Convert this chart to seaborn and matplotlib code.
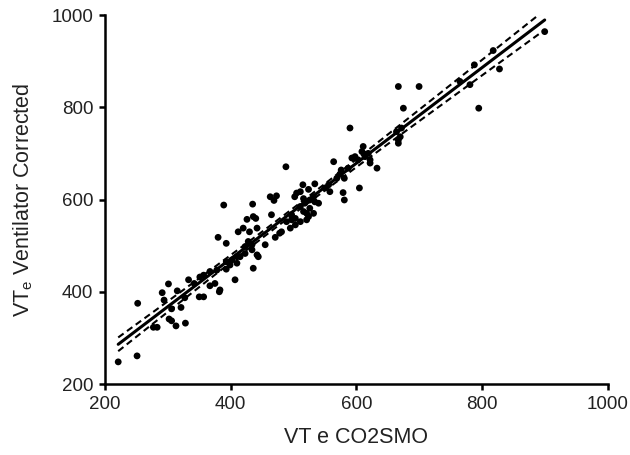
import numpy as np
import pandas as pd
import matplotlib
matplotlib.use("Agg")
import matplotlib.pyplot as plt
import seaborn as sns

# ---- data ----
vt_co2smo = [
    221, 251, 252, 277, 283, 301, 291, 294, 315, 306, 321, 302, 306, 313, 328,
    333, 327, 342, 350, 357, 367, 375, 382, 367, 378, 393, 380, 393, 407, 410,
    412, 351, 357, 402, 410, 383,
    488, 564, 598, 576, 581, 605, 579, 581, 389, 435, 463, 473, 469, 515, 524,
    534, 505, 511, 426, 436, 440, 420, 430, 442, 465, 436, 455, 471, 478, 481,
    489, 497, 495, 503, 511, 511, 518, 526, 532, 524, 532, 540, 558, 415, 423,
    434, 442, 393, 399, 428, 434, 423, 444, 516, 502, 574, 587, 556, 550, 534,
    526, 521, 516, 497, 503, 521, 569,
    675, 795, 590, 611, 619, 614, 622, 622, 633, 664, 672, 670, 667, 667, 700,
    609, 603, 593, 667,
    900, 818, 788, 765, 781, 828,
]
vt_ventilator = [
    248, 261, 375, 323, 323, 417, 398, 382, 402, 363, 366, 341, 337, 326, 332,
    426, 387, 418, 389, 389, 413, 418, 400, 444, 447, 449, 518, 505, 426, 462,
    530, 432, 436, 469, 476, 404,
    671, 682, 693, 664, 646, 625, 615, 599, 588, 590, 606, 608, 598, 632, 622,
    634, 614, 617, 557, 563, 559, 538, 530, 538, 567, 451, 502, 518, 527, 530,
    552, 556, 538, 545, 552, 585, 592, 599, 606, 563, 570, 592, 617, 476, 483,
    491, 480, 465, 458, 509, 502, 498, 476, 602, 606, 655, 668, 632, 625, 595,
    581, 570, 574, 567, 559, 556, 646,
    798, 798, 755, 715, 700, 693, 686, 679, 668, 747, 755, 736, 722, 845, 845,
    704, 686, 690, 729,
    964, 923, 892, 856, 849, 883,
]
x_ticks = [200, 400, 600, 800, 1000]
y_ticks = [200, 400, 600, 800, 1000]

df = pd.DataFrame({"x": vt_co2smo, "y": vt_ventilator})

sns.set_theme(style="ticks")
plt.rcParams["font.family"] = ["Liberation Sans", "DejaVu Sans"]
plt.rcParams["mathtext.fontset"] = "custom"
plt.rcParams["mathtext.rm"] = "Liberation Sans"
plt.rcParams["mathtext.it"] = "Liberation Sans:italic"

fig = plt.figure(figsize=(6.3, 4.55), dpi=100)
ax = fig.add_axes([0.1667, 0.156, 0.7976, 0.811])

# regression line
sns.regplot(data=df, x="x", y="y", scatter=False, ci=None, ax=ax,
            line_kws=dict(color="black", lw=2.2, zorder=2))

# 95% confidence band of the fit, drawn as dashed lines
xa = np.asarray(vt_co2smo, float)
ya = np.asarray(vt_ventilator, float)
n = len(xa)
b, a = np.polyfit(xa, ya, 1)
resid = ya - (a + b * xa)
s = np.sqrt(np.sum(resid ** 2) / (n - 2))
xx = np.linspace(xa.min(), xa.max(), 100)
se = s * np.sqrt(1.0 / n + (xx - xa.mean()) ** 2 / np.sum((xa - xa.mean()) ** 2))
yy = a + b * xx
t = 1.976
for sign in (1, -1):
    ax.plot(xx, yy + sign * t * se, color="black", lw=1.5,
            dashes=(3.2, 2.0), zorder=2)

sns.scatterplot(data=df, x="x", y="y", ax=ax, color="black", s=24,
                edgecolor="none", linewidth=0, zorder=3)

ax.set_xlim(200, 1000)
ax.set_ylim(200, 1000)
ax.set_xticks(x_ticks)
ax.set_yticks(y_ticks)
ax.set_xticklabels([str(v) for v in x_ticks])
ax.set_yticklabels([str(v) for v in y_ticks])

for side in ("top", "right"):
    ax.spines[side].set_visible(False)
for side in ("left", "bottom"):
    ax.spines[side].set_linewidth(1.8)
    ax.spines[side].set_color("black")
ax.tick_params(axis="both", direction="out", length=4.5, width=1.8,
               color="black", labelsize=13.5, labelcolor="#222222", pad=4)
for lab in ax.get_xticklabels() + ax.get_yticklabels():
    lab.set_clip_on(False)

ax.set_xlabel("VT e CO2SMO", fontsize=15.5, color="#222222", labelpad=10)
ax.set_ylabel(r"VT$_\mathrm{e}$ Ventilator Corrected", fontsize=15.5,
              color="#222222", labelpad=12)

fig.savefig("out.png", dpi=100)
